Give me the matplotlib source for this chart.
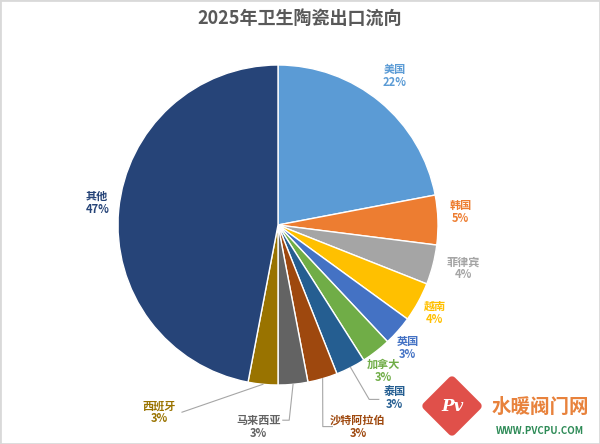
import numpy as np
import matplotlib.pyplot as plt
from matplotlib.patches import Rectangle, RegularPolygon

plt.rcParams['font.family'] = ['Noto Sans CJK SC', 'DejaVu Sans']

countries = ['美国', '韩国', '菲律宾', '越南', '英国', '加拿大', '泰国', '沙特阿拉伯', '马来西亚', '西班牙', '其他']
shares = [22, 5, 4, 4, 3, 3, 3, 3, 3, 3, 47]
colors = ['#5B9BD5', '#ED7D31', '#A5A5A5', '#FFC000', '#4472C4', '#70AD47',
          '#255E91', '#9E480E', '#636363', '#997300', '#264478']

# label positions (pie radius = 1)
label_pos = [(0.73, 0.93), (1.14, 0.08), (1.16, -0.27), (0.98, -0.55), (0.81, -0.77),
             (0.66, -0.91), (0.73, -1.08), (0.5, -1.26), (-0.12, -1.26), (-0.74, -1.17),
             (-1.13, 0.14)]
leader = {6: [(0.57, -1.09)], 7: [(0.28, -1.26)], 8: [(0.07, -1.22)], 9: [(-0.6, -1.17)]}

fig = plt.figure(figsize=(6, 4.44), dpi=100)
ax = fig.add_axes([(278 - 160) / 600, (444 - 225 - 160) / 444, 320 / 600, 320 / 444])
wedges, _ = ax.pie(shares, colors=colors, startangle=90, counterclock=False,
                   wedgeprops=dict(edgecolor='white', linewidth=1))
ax.set_xlim(-1, 1)
ax.set_ylim(-1, 1)
ax.set_aspect('equal')

for i, w in enumerate(wedges):
    x, y = label_pos[i]
    ax.text(x, y, f'{countries[i]}\n{shares[i]}%', color=colors[i], fontsize=8,
            fontweight='bold', ha='center', va='center', linespacing=1.0, clip_on=False)
    if i in leader:
        mid = np.deg2rad((w.theta1 + w.theta2) / 2)
        pts = [(np.cos(mid), np.sin(mid))] + leader[i]
        if i in (6, 7):
            pts.append((leader[i][0][0] + 0.06, leader[i][0][1]))
        elif i == 8:
            pts.append((leader[i][0][0] - 0.04, leader[i][0][1]))
        xs, ys = zip(*pts)
        ax.plot(xs, ys, color='#A6A6A6', lw=0.8, clip_on=False)

fig.text(0.5, 1 - 18 / 444, '2025年卫生陶瓷出口流向', ha='center', va='center',
         fontsize=13, fontweight='bold', color='#595959')

# watermark
lax = fig.add_axes([422 / 600, 1 - 436 / 444, 60 / 600, 60 / 444])
lax.set_xlim(-1, 1)
lax.set_ylim(-1, 1)
lax.set_aspect('equal')
lax.axis('off')
lax.add_patch(RegularPolygon((0, 0), 4, radius=0.85, orientation=0, facecolor='#E0504A',
                             edgecolor='#E0504A', linewidth=6, joinstyle='round'))
lax.text(0, 0, 'Pv', ha='center', va='center', fontsize=12, color='white',
         style='italic', fontweight='bold', family='DejaVu Serif')
fig.text(540 / 600, 1 - 407 / 444, '水暖阀门网', ha='center', va='center', fontsize=14,
         color='#E8823C', fontweight='bold')
fig.text(540 / 600, 1 - 431 / 444, 'WWW.PVCPU.COM', ha='center', va='center', fontsize=7,
         color='#2E8B57', fontweight='bold')

fig.patches.append(Rectangle((0, 0), 1, 1, transform=fig.transFigure, fill=False,
                             edgecolor='#D9D9D9', linewidth=2))
fig.savefig('out.png', dpi=100)
